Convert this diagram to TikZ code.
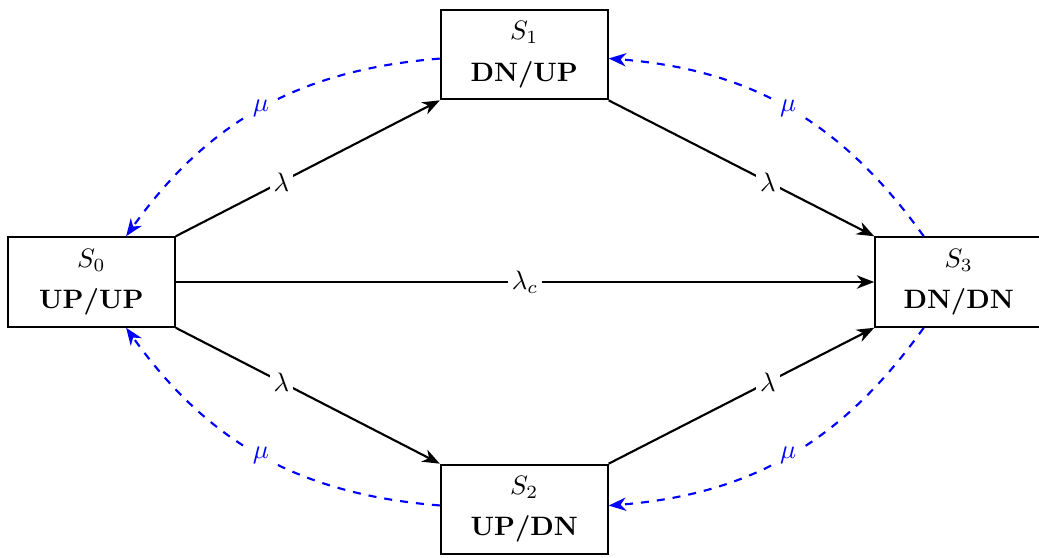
\documentclass[tikz,border=0pt]{standalone}
\usetikzlibrary{arrows.meta}
\begin{document}
\begin{tikzpicture}[
  state/.style={draw, thick, minimum width=2.2cm, minimum height=1.18cm, align=center, fill=white},
  trans/.style={thick, -{Stealth[length=6.5pt,width=5pt,inset=2pt]}},
  rep/.style={blue, thick, dashed, -{Stealth[length=6.5pt,width=5pt,inset=2pt]}},
  lab/.style={fill=white, inner sep=1.5pt},
  mulab/.style={fill=white, inner sep=1.5pt, text=blue}
]
\useasboundingbox (-1.205,-3.64) rectangle (12.5,3.72);
\node[state] (S0) at (0,0) {$S_0$\\[3.5pt]\textbf{UP/UP}};
\node[state] (S1) at (5.71,3) {$S_1$\\[3.5pt]\textbf{DN/UP}};
\node[state] (S2) at (5.71,-3) {$S_2$\\[3.5pt]\textbf{UP/DN}};
\node[state] (S3) at (11.44,0) {$S_3$\\[3.5pt]\textbf{DN/DN}};

\draw[trans] (S0.north east) -- node[lab, pos=0.4] {$\lambda$} (S1.south west);
\draw[trans] (S1.south east) -- node[lab, pos=0.6] {$\lambda$} (S3.north west);
\draw[trans] (S0.south east) -- node[lab, pos=0.4] {$\lambda$} (S2.north west);
\draw[trans] (S2.north east) -- node[lab, pos=0.6] {$\lambda$} (S3.south west);
\draw[trans] (S0.east) -- node[lab] {$\lambda_c$} (S3.west);

\draw[rep] (S1) to[bend right=25] node[mulab] {$\mu$} (S0);
\draw[rep] (S3) to[bend right=25] node[mulab] {$\mu$} (S1);
\draw[rep] (S2) to[bend left=25] node[mulab] {$\mu$} (S0);
\draw[rep] (S3) to[bend left=25] node[mulab] {$\mu$} (S2);
\end{tikzpicture}
\end{document}
